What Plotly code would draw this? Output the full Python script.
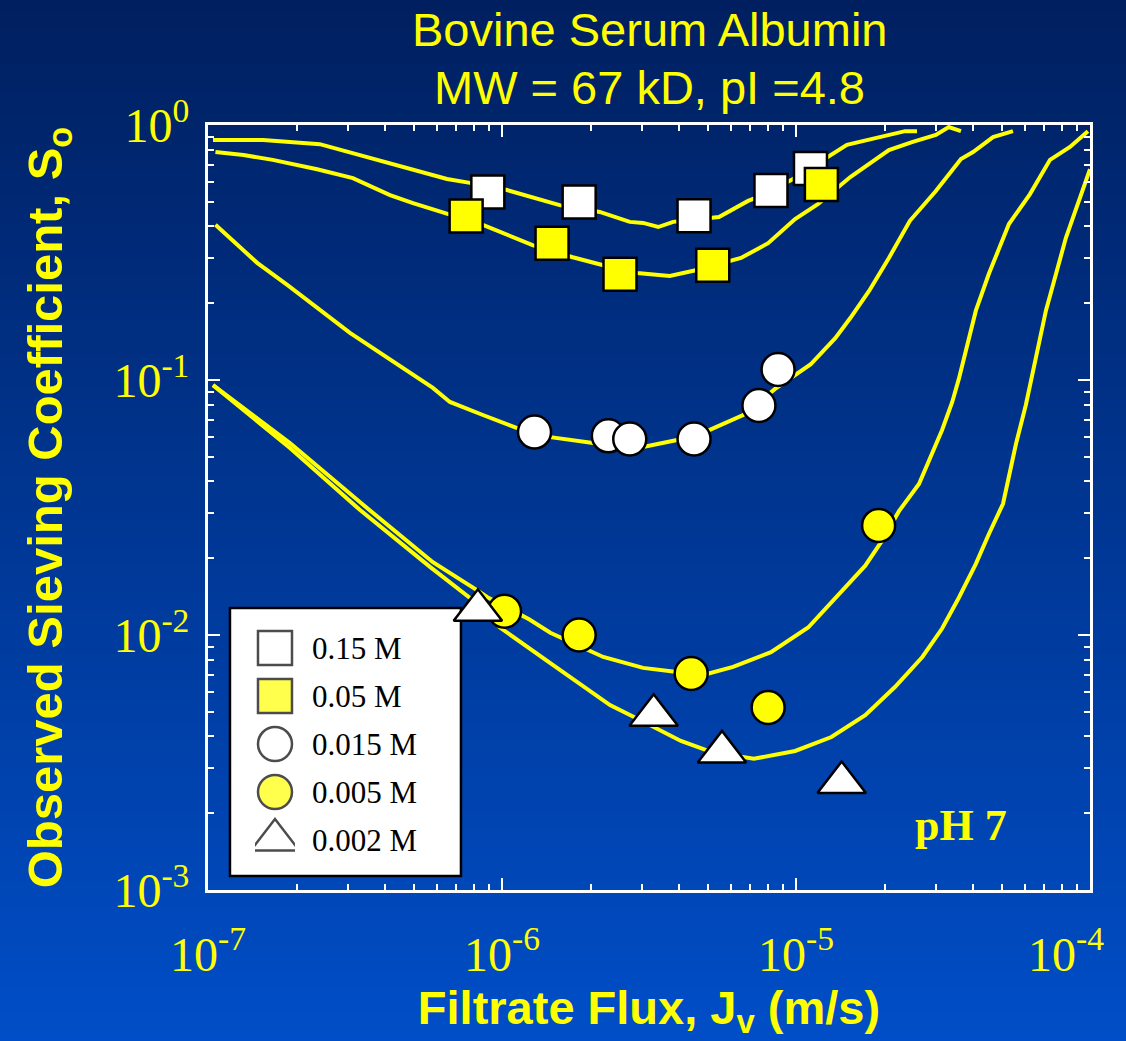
import plotly.graph_objects as go

# ---------------- data ----------------
# model curves: filtrate flux Jv (m/s) and observed sieving coefficient So
curve_015_J = [1.04e-7, 1.54e-7, 2.40e-7, 3.76e-7, 4.75e-7, 6.50e-7, 7.78e-7, 1.04e-6, 1.57e-6,
               2.15e-6, 2.72e-6, 3.02e-6, 3.40e-6, 3.82e-6, 5.47e-6, 6.87e-6, 7.60e-6, 9.77e-6,
               1.49e-5, 1.90e-5, 2.17e-5, 2.35e-5, 2.58e-5]
curve_015_S = [0.873, 0.873, 0.841, 0.730, 0.684, 0.614, 0.593, 0.556, 0.485,
               0.456, 0.417, 0.413, 0.398, 0.417, 0.436, 0.504, 0.527, 0.614,
               0.836, 0.889, 0.923, 0.946, 0.946]

curve_005_J = [1.06e-7, 1.32e-7, 1.66e-7, 2.35e-7, 3.11e-7, 4.16e-7, 4.98e-7, 6.65e-7, 8.61e-7,
               1.27e-6, 1.74e-6, 2.21e-6, 2.88e-6, 3.72e-6, 4.60e-6, 6.50e-6, 8.04e-6, 9.93e-6,
               1.19e-5, 1.53e-5, 2.07e-5, 2.48e-5, 2.99e-5, 3.31e-5, 3.64e-5]
curve_005_S = [0.783, 0.762, 0.730, 0.671, 0.619, 0.531, 0.494, 0.444, 0.406,
               0.338, 0.303, 0.282, 0.263, 0.256, 0.270, 0.301, 0.344, 0.428,
               0.490, 0.625, 0.798, 0.857, 0.914, 0.982, 0.946]

curve_0015_J = [1.06e-7, 1.47e-7, 1.86e-7, 3.04e-7, 5.82e-7, 6.65e-7, 8.61e-7, 1.12e-6, 1.46e-6,
                2.04e-6, 3.02e-6, 3.94e-6, 5.09e-6, 5.82e-6, 6.61e-6, 8.49e-6, 1.12e-5, 1.36e-5,
                1.53e-5, 1.77e-5, 2.07e-5, 2.44e-5, 2.99e-5, 3.64e-5, 4.00e-5, 4.68e-5, 5.47e-5]
curve_0015_S = [0.406, 0.288, 0.236, 0.153, 0.0931, 0.0820, 0.0729, 0.0649, 0.0597,
                0.0566, 0.0546, 0.0582, 0.0637, 0.0684, 0.0729, 0.0923, 0.115, 0.146,
                0.175, 0.223, 0.301, 0.421, 0.551, 0.736, 0.783, 0.897, 0.946]

curve_0005_J = [1.04e-7, 1.90e-7, 3.37e-7, 5.82e-7, 8.22e-7, 8.89e-7, 1.24e-6, 1.46e-6, 2.21e-6,
                3.02e-6, 3.94e-6, 4.98e-6, 6.11e-6, 8.22e-6, 1.10e-5, 1.36e-5, 1.72e-5, 1.96e-5,
                2.24e-5, 2.62e-5, 3.14e-5, 3.40e-5, 3.58e-5, 4.09e-5, 4.53e-5, 5.30e-5, 6.25e-5,
                7.31e-5, 8.55e-5, 9.84e-5]
curve_0005_S = [0.0955, 0.0566, 0.0324, 0.0193, 0.0150, 0.0141, 0.0115, 0.0102, 0.00820,
                0.00743, 0.00716, 0.00703, 0.00750, 0.00857, 0.0107, 0.0140, 0.0187, 0.0234,
                0.0306, 0.0391, 0.0637, 0.0820, 0.101, 0.187, 0.261, 0.409, 0.536,
                0.730, 0.820, 0.946]

curve_0002_J = [1.04e-7, 1.90e-7, 3.29e-7, 5.69e-7, 7.96e-7, 9.84e-7, 1.46e-6, 2.21e-6, 2.33e-6,
                3.04e-6, 4.06e-6, 5.14e-6, 7.19e-6, 9.93e-6, 1.32e-5, 1.72e-5, 2.17e-5, 2.69e-5,
                3.14e-5, 3.58e-5, 4.09e-5, 4.53e-5, 5.06e-5, 5.60e-5, 6.05e-5, 7.08e-5, 8.28e-5,
                1.00e-4]
curve_0002_S = [0.0955, 0.0541, 0.0309, 0.0185, 0.0137, 0.0107, 0.00776, 0.00556, 0.00531,
                0.00456, 0.00384, 0.00348, 0.00327, 0.00351, 0.00398, 0.00485, 0.00625, 0.00820,
                0.0106, 0.0140, 0.0190, 0.0249, 0.0327, 0.0561, 0.0798, 0.187, 0.361,
                0.671]

# measured points
pts_015_J = [8.95e-7, 1.83e-6, 4.50e-6, 8.22e-6, 1.12e-5]
pts_015_S = [0.546, 0.499, 0.441, 0.553, 0.675]

pts_005_J = [7.55e-7, 1.48e-6, 2.52e-6, 5.21e-6, 1.22e-5]
pts_005_S = [0.440, 0.344, 0.260, 0.282, 0.585]

pts_0015_J = [1.29e-6, 2.30e-6, 2.72e-6, 4.50e-6, 7.48e-6, 8.69e-6]
pts_0015_S = [0.0625, 0.0604, 0.0587, 0.0587, 0.0794, 0.110]

pts_0005_J = [1.02e-6, 1.83e-6, 4.40e-6, 8.04e-6, 1.91e-5]
pts_0005_S = [0.0124, 0.0100, 0.00706, 0.0052, 0.0269]

pts_0002_J = [8.28e-7, 3.28e-6, 5.60e-6, 1.43e-5]
pts_0002_S = [0.0125, 0.00484, 0.00348, 0.00264]

legend_labels = ["0.15 M", "0.05 M", "0.015 M", "0.005 M", "0.002 M"]

x_tickvals = [1e-7, 1e-6, 1e-5, 1e-4]
# the last label is nudged left (trailing no-break spaces) so it stays inside the page
x_ticktext = ["10<sup>-7</sup>", "10<sup>-6</sup>", "10<sup>-5</sup>",
              "10<sup>-4</sup>\u00a0\u00a0\u00a0\u00a0"]
y_tickvals = [1e-3, 1e-2, 1e-1, 1e0]
y_ticktext = ["10<sup>-3</sup>", "10<sup>-2</sup>", "10<sup>-1</sup>", "10<sup>0</sup>"]

# ---------------- styling ----------------
YELLOW = "#FFFF00"
WHITE = "#FFFFFF"
SERIF = "Liberation Serif, Times New Roman, serif"
SANS = "Liberation Sans, Arial, sans-serif"

fig = go.Figure()

curves = [(curve_015_J, curve_015_S), (curve_005_J, curve_005_S), (curve_0015_J, curve_0015_S),
          (curve_0005_J, curve_0005_S), (curve_0002_J, curve_0002_S)]
for cj, cs in curves:
    fig.add_trace(go.Scatter(x=cj, y=cs, mode="lines", line=dict(color=YELLOW, width=4),
                             showlegend=False, hoverinfo="skip"))

series = [
    (pts_015_J, pts_015_S, "square", WHITE, 33),
    (pts_005_J, pts_005_S, "square", YELLOW, 33),
    (pts_0015_J, pts_0015_S, "circle", WHITE, 33),
    (pts_0005_J, pts_0005_S, "circle", YELLOW, 33),
    (pts_0002_J, pts_0002_S, "triangle-up", WHITE, 42),
]
for (pj, ps, sym, col, sz), lab in zip(series, legend_labels):
    fig.add_trace(go.Scatter(x=pj, y=ps, mode="markers", name=lab, showlegend=False,
                             marker=dict(symbol=sym, color=col, size=sz,
                                         line=dict(color="black", width=2.5))))

# custom legend drawn on its own small subplot (large symbols like the reference)
fig.add_trace(go.Scatter(
    x=[0] * len(legend_labels), y=legend_labels, mode="markers", showlegend=False,
    xaxis="x2", yaxis="y2", hoverinfo="skip",
    marker=dict(symbol=[s[2] for s in series], color=[s[3] for s in series],
                size=[34, 34, 34, 34, 42], line=dict(color="black", width=2.5))))

# background gradient (navy at top to brighter blue at bottom)
shapes = []
n = 120
top_rgb = (0, 31, 95)
bot_rgb = (0, 78, 200)
y_top, y_bot = 1.17, -0.21
for i in range(n):
    t = i / (n - 1)
    r = round(top_rgb[0] + (bot_rgb[0] - top_rgb[0]) * t)
    g = round(top_rgb[1] + (bot_rgb[1] - top_rgb[1]) * t)
    b = round(top_rgb[2] + (bot_rgb[2] - top_rgb[2]) * t)
    y0 = y_top + (y_bot - y_top) * i / n
    y1 = y_top + (y_bot - y_top) * (i + 1) / n
    shapes.append(dict(type="rect", xref="paper", yref="paper", x0=-0.3, x1=1.1,
                       y0=y1 - 0.002, y1=y0 + 0.002, fillcolor=f"rgb({r},{g},{b})",
                       line=dict(width=0), layer="below"))
# legend box
shapes.append(dict(type="rect", xref="paper", yref="paper", x0=0.0249, x1=0.2868,
                   y0=0.0183, y1=0.3686, fillcolor="white",
                   line=dict(color="black", width=2.5), layer="below"))

minor_x = [m * 10.0 ** e for e in (-7, -6, -5) for m in range(2, 10)]
minor_y = [m * 10.0 ** e for e in (-3, -2, -1) for m in range(2, 10)]

axis_common = dict(
    type="log", showline=True, linecolor=WHITE, linewidth=3, mirror="allticks",
    ticks="inside", ticklen=12, tickwidth=2, tickcolor=WHITE, showgrid=False,
    zeroline=False, tickmode="array", automargin=False, ticklabeloverflow="allow",
    tickfont=dict(family=SERIF, size=48, color=YELLOW),
)

fig.update_layout(
    width=1126, height=1041,
    margin=dict(l=208, r=36, t=125, b=151),
    paper_bgcolor="#00318a",
    plot_bgcolor="rgba(0,0,0,0)",
    shapes=shapes,
    xaxis=dict(**axis_common, range=[-7, -4], tickvals=x_tickvals, ticktext=x_ticktext,
               ticklabelstandoff=20,
               minor=dict(tickmode="array", tickvals=minor_x, ticks="inside", ticklen=6,
                          tickwidth=2, tickcolor=WHITE, showgrid=False),
               title=dict(text="Filtrate Flux, J<sub>v</sub> (m/s)", standoff=4,
                          font=dict(family=SANS, size=47, color=YELLOW, weight="bold"))),
    yaxis=dict(**axis_common, range=[-3, 0], tickvals=y_tickvals, ticktext=y_ticktext,
               ticklabelstandoff=6,
               minor=dict(tickmode="array", tickvals=minor_y, ticks="inside", ticklen=6,
                          tickwidth=2, tickcolor=WHITE, showgrid=False),
               title=dict(text="Observed Sieving Coefficient, S<sub>o</sub>", standoff=36,
                          font=dict(family=SANS, size=49, color=YELLOW, weight="bold"))),
    xaxis2=dict(domain=[0.0533, 0.0986], range=[-1, 1], anchor="y2", visible=False,
                fixedrange=True),
    yaxis2=dict(domain=[0.0137, 0.3614], anchor="x2", side="right", type="category",
                categoryorder="array", categoryarray=legend_labels, autorange="reversed",
                showgrid=False, zeroline=False, showline=False, ticks="",
                ticklabelstandoff=16, automargin=False,
                tickfont=dict(family=SERIF, size=31, color="black")),
    annotations=[
        dict(text="Bovine Serum Albumin", xref="paper", yref="paper", x=0.5, y=1.1242,
             xanchor="center", yanchor="middle", showarrow=False,
             font=dict(family=SANS, size=47, color=YELLOW)),
        dict(text="MW = 67 kD, pI =4.8", xref="paper", yref="paper", x=0.5, y=1.0484,
             xanchor="center", yanchor="middle", showarrow=False,
             font=dict(family=SANS, size=47, color=YELLOW)),
        dict(text="<b>pH 7</b>", xref="paper", yref="paper", x=0.8537, y=0.0837,
             xanchor="center", yanchor="middle", showarrow=False,
             font=dict(family=SERIF, size=44, color=YELLOW)),
    ],
)

fig.write_html("out.html")
